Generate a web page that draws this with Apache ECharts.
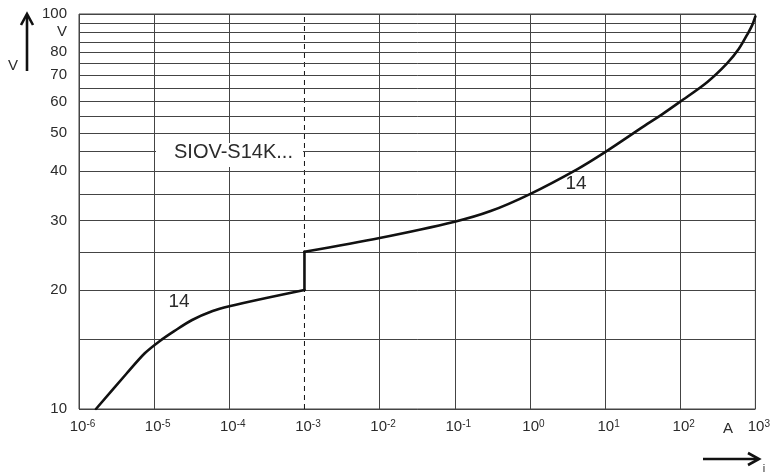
<!DOCTYPE html>
<html>
<head>
<meta charset="utf-8">
<script src="https://cdn.jsdelivr.net/npm/echarts@6/dist/echarts.min.js"></script>
<style>
  html, body { margin: 0; padding: 0; background: #fff; }
  #chart { width: 773px; height: 474px; }
</style>
</head>
<body>
<div id="chart"></div>
<script>
// V/I characteristic of the SIOV-S14K varistor series: current (A) vs. voltage (V)
// leakage-current branch (below 1 mA)
const lowCurrentA = [1.68e-6, 4.3e-6, 7.5e-6, 1.18e-5, 1.87e-5, 3.2e-5, 6e-5, 1e-4, 3.1e-4, 1e-3];
const lowVoltageV = [10, 12.3, 13.84, 14.85, 15.77, 16.8, 17.7, 18.2, 19.1, 20];
// surge-current branch (from 1 mA)
const highCurrentA = [1e-3, 1e-2, 1e-1, 0.3, 1, 4.3, 10, 36.5, 58, 100, 228, 420, 600, 813, 913, 1000];
const highVoltageV = [25, 27.1, 29.8, 31.7, 35, 40.5, 44.7, 52.7, 55.8, 60, 67.2, 75, 81.5, 90, 94, 98.6];

// current decades on the horizontal axis
const currentTicks = [1e-6, 1e-5, 1e-4, 1e-3, 1e-2, 1e-1, 1e0, 1e1, 1e2, 1e3];
// voltage range, horizontal grid voltages and the ones that carry a label
const voltageMin = 10;
const voltageMax = 100;
const voltageGrid = [10, 15, 20, 25, 30, 35, 40, 45, 50, 55, 60, 65, 70, 75, 80, 85, 90, 95, 100];
const voltageLabels = [10, 20, 30, 40, 50, 60, 70, 80, 100];
// current where the two branches meet (dashed marker)
const transitionCurrent = 1e-3;

const FONT = '"Liberation Sans", Arial, sans-serif';
const TEXT = '#2b2b2b';
const GRID = '#444';
const INK = '#111';

const chart = echarts.init(document.getElementById('chart'), null, { renderer: 'canvas' });

const gridLineStyle = { color: GRID, width: 1, type: 'solid' };

const hLines = voltageGrid.map(v => ({
  yAxis: v,
  lineStyle: gridLineStyle,
  label: {
    show: voltageLabels.includes(v),
    position: 'start',
    distance: 12,
    formatter: String(v),
    color: TEXT,
    fontFamily: FONT,
    fontSize: 15
  }
}));

// the decade line at the transition current is replaced by the dashed marker
const vLineColors = currentTicks.map(c => (c === transitionCurrent ? 'rgba(0,0,0,0)' : GRID));

const curveStyle = { color: INK, width: 2.6, join: 'round', cap: 'round' };

const option = {
  animation: false,
  backgroundColor: '#fff',
  grid: {
    left: 79, right: 14, top: 14, bottom: 65,
    show: true, borderColor: GRID, borderWidth: 1, backgroundColor: 'transparent'
  },
  xAxis: {
    type: 'log',
    logBase: 10,
    min: currentTicks[0],
    max: currentTicks[currentTicks.length - 1],
    splitNumber: 9,
    axisLine: { show: false },
    axisTick: { show: false },
    splitLine: { show: true, showMinLine: true, showMaxLine: true, lineStyle: { color: vLineColors, width: 1 } },
    axisLabel: {
      margin: 10,
      padding: [0, 0, 0, 7],
      formatter: v => '{b|10}{s|' + Math.round(Math.log10(v)) + '}',
      rich: {
        b: { fontFamily: FONT, fontSize: 15, color: TEXT },
        s: { fontFamily: FONT, fontSize: 10, color: TEXT, verticalAlign: 'top' }
      }
    }
  },
  yAxis: {
    type: 'log',
    logBase: 10,
    min: voltageMin,
    max: voltageMax,
    axisLine: { show: false },
    axisTick: { show: false },
    axisLabel: { show: false },
    splitLine: { show: false }
  },
  series: [
    {
      name: 'grid',
      type: 'line',
      data: [],
      z: 1,
      silent: true,
      markLine: {
        silent: true,
        symbol: ['none', 'none'],
        animation: false,
        data: hLines
      }
    },
    {
      name: 'transition',
      type: 'line',
      z: 2,
      silent: true,
      showSymbol: false,
      data: [[transitionCurrent, voltageMin], [transitionCurrent, voltageMax]],
      lineStyle: { color: INK, width: 1, type: [5, 4] }
    },
    {
      name: 'S14K leakage',
      type: 'line',
      z: 5,
      showSymbol: false,
      smooth: 0.3,
      data: lowCurrentA.map((c, i) => [c, lowVoltageV[i]]),
      lineStyle: curveStyle
    },
    {
      name: 'S14K step',
      type: 'line',
      z: 5,
      showSymbol: false,
      data: [
        [lowCurrentA[lowCurrentA.length - 1], lowVoltageV[lowVoltageV.length - 1]],
        [highCurrentA[0], highVoltageV[0]]
      ],
      lineStyle: curveStyle
    },
    {
      name: 'S14K surge',
      type: 'line',
      z: 5,
      showSymbol: false,
      smooth: 0.3,
      data: highCurrentA.map((c, i) => [c, highVoltageV[i]]),
      lineStyle: curveStyle
    }
  ],
  graphic: [
    // vertical arrow with "V"
    { type: 'polyline', z: 100, shape: { points: [[27, 71], [27, 15]] }, style: { stroke: INK, lineWidth: 2.6, fill: null } },
    { type: 'polyline', z: 100, shape: { points: [[21, 25], [27, 14], [33, 25]] }, style: { stroke: INK, lineWidth: 2.6, fill: null } },
    { type: 'text', z: 100, x: 13, y: 66, style: { text: 'V', font: '15px ' + FONT, fill: TEXT, align: 'center', verticalAlign: 'middle' } },
    // unit next to the 100 V mark
    { type: 'text', z: 100, x: 67, y: 32, style: { text: 'V', font: '15px ' + FONT, fill: TEXT, align: 'right', verticalAlign: 'middle' } },
    // horizontal arrow with "i" and unit "A"
    { type: 'polyline', z: 100, shape: { points: [[703, 459], [758, 459]] }, style: { stroke: INK, lineWidth: 2.6, fill: null } },
    { type: 'polyline', z: 100, shape: { points: [[748, 453], [759, 459], [748, 465]] }, style: { stroke: INK, lineWidth: 2.6, fill: null } },
    { type: 'text', z: 100, x: 764, y: 469, style: { text: 'i', font: '11px ' + FONT, fill: TEXT, align: 'center', verticalAlign: 'middle' } },
    { type: 'text', z: 100, x: 728, y: 429, style: { text: 'A', font: '15px ' + FONT, fill: TEXT, align: 'center', verticalAlign: 'middle' } },
    // series title box
    { type: 'rect', z: 100, shape: { x: 156, y: 143, width: 147, height: 24 }, style: { fill: '#fff' } },
    { type: 'text', z: 101, x: 174, y: 152, style: { text: 'SIOV-S14K...', font: '20px ' + FONT, fill: TEXT, align: 'left', verticalAlign: 'middle' } },
    // curve designations
    { type: 'text', z: 100, x: 179, y: 302, style: { text: '14', font: '19px ' + FONT, fill: TEXT, align: 'center', verticalAlign: 'middle' } },
    { type: 'text', z: 100, x: 576, y: 184, style: { text: '14', font: '19px ' + FONT, fill: TEXT, align: 'center', verticalAlign: 'middle' } }
  ]
};

chart.setOption(option);
</script>
</body>
</html>
